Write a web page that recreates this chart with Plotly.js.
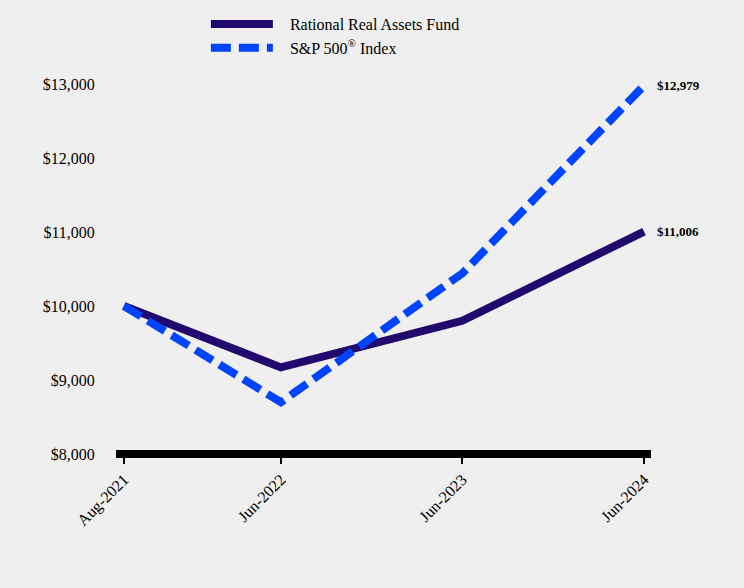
<!DOCTYPE html>
<html><head><meta charset="utf-8">
<script src="https://cdn.plot.ly/plotly-3.0.1.min.js"></script>
<style>html,body{margin:0;padding:0;background:#efefef;}</style>
</head><body>
<div id="chart" style="width:744px;height:588px;"></div>
<script>
const dates = ["2021-08-18", "2022-06-30", "2023-06-30", "2024-06-30"];
const tickLabels = ["Aug-2021", "Jun-2022", "Jun-2023", "Jun-2024"];
const fundName = "Rational Real Assets Fund";
const fundValues = [10000, 9170, 9800, 11006];
const spName = "S&P 500<sup>®</sup> Index";
const spValues = [10000, 8700, 10440, 12979];
const yTicks = [8000, 9000, 10000, 11000, 12000, 13000];

const fmt = v => "$" + v.toLocaleString("en-US");
const pad = "\u00a0\u00a0\u00a0";

const traces = [
  {x: dates, y: fundValues, name: pad + fundName, type: "scatter", mode: "lines",
   line: {color: "#200a6e", width: 8}},
  {x: dates, y: spValues, name: pad + spName, type: "scatter", mode: "lines",
   line: {color: "#0044ff", width: 8, dash: "20px,8px"}}
];

const last = dates.length - 1;
const annotations = [
  {x: dates[last], y: spValues[last], text: fmt(spValues[last])},
  {x: dates[last], y: fundValues[last], text: fmt(fundValues[last])}
].map(a => Object.assign(a, {xref: "x", yref: "y", xanchor: "left", yanchor: "middle",
  xshift: 11, showarrow: false, font: {family: "Liberation Serif", size: 13, color: "#000"}}));
annotations.forEach(a => a.text = "<b>" + a.text + "</b>");

const layout = {
  width: 744, height: 588,
  paper_bgcolor: "#efefef", plot_bgcolor: "#efefef",
  margin: {l: 116, r: 93, t: 84, b: 134, autoexpand: false},
  font: {family: "Liberation Serif", color: "#000"},
  showlegend: true,
  legend: {x: 0.168, xanchor: "left", yref: "container", y: 0.988, yanchor: "top", orientation: "v",
    font: {family: "Liberation Serif", size: 16, color: "#000"}, itemwidth: 62,
    bgcolor: "rgba(0,0,0,0)", tracegroupgap: 0},
  xaxis: {type: "date", range: ["2021-08-02", "2024-07-14"],
    tickvals: dates, ticktext: tickLabels, tickangle: -45,
    showgrid: false, zeroline: false, showline: false,
    ticks: "outside", ticklen: 9, tickwidth: 2, tickcolor: "#000",
    tickfont: {family: "Liberation Serif", size: 16, color: "#000"}},
  yaxis: {range: [8000, 13000], tickvals: yTicks, ticktext: yTicks.map(fmt),
    showgrid: false, zeroline: false, showline: false,
    ticks: "outside", ticklen: 17, tickcolor: "rgba(0,0,0,0)",
    tickfont: {family: "Liberation Serif", size: 16, color: "#000"}},
  shapes: [{type: "line", xref: "paper", yref: "paper", x0: 0, x1: 1, y0: 0, y1: 0,
    line: {color: "#000", width: 8}, layer: "above"}],
  annotations: annotations
};

Plotly.newPlot("chart", traces, layout, {displayModeBar: false, staticPlot: true});
</script>
</body></html>
